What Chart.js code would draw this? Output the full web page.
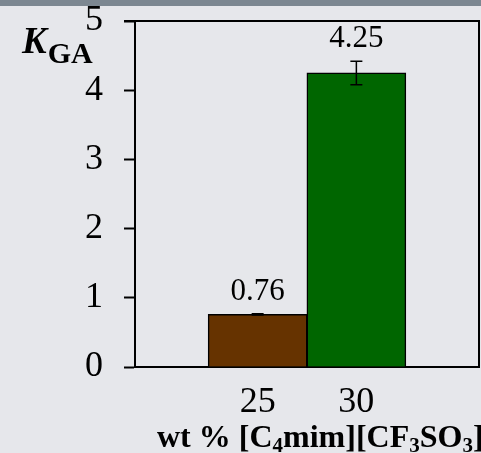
<!DOCTYPE html>
<html>
<head>
<meta charset="utf-8">
<script src="https://cdn.jsdelivr.net/npm/chart.js@4/dist/chart.umd.min.js"></script>
<style>
  html, body { margin: 0; padding: 0; background: #e6e7eb; }
  canvas { display: block; }
</style>
</head>
<body>
<canvas id="kga-chart" width="481" height="453"></canvas>
<script>
// wt % of [C4mim][CF3SO3]
const concentrations = [25, 30];
const kgaValues = [0.76, 4.25];
const kgaErrors = [0.01, 0.17];
const barColors = ['#663300', '#006600'];
const yTicks = [0, 1, 2, 3, 4, 5];

const serif = "'Liberation Serif', 'Times New Roman', serif";

// draw a run of text pieces, some of them lowered as subscripts
function drawRich(ctx, x, y, parts) {
    let cx = x;
    parts.forEach(p => {
        ctx.font = p.font;
        cx += p.gap || 0;
        ctx.fillText(p.text, cx, y + (p.dy || 0));
        cx += ctx.measureText(p.text).width;
    });
}

const extras = {
    id: 'extras',
    beforeDraw(chart) {
        const ctx = chart.ctx;
        ctx.save();
        ctx.fillStyle = '#7c8791';
        ctx.fillRect(0, 0, chart.width, 6);
        ctx.restore();
    },
    afterDraw(chart) {
        const ctx = chart.ctx;
        const area = chart.chartArea;
        const y = chart.scales.y;
        const meta = chart.getDatasetMeta(0);
        ctx.save();

        // top and right frame
        ctx.strokeStyle = '#000';
        ctx.lineWidth = 2;
        ctx.beginPath();
        ctx.moveTo(area.left - 11, area.top);
        ctx.lineTo(area.right, area.top);
        ctx.lineTo(area.right, area.bottom);
        ctx.stroke();

        // error bars and value labels
        ctx.lineWidth = 1.5;
        ctx.fillStyle = '#000';
        ctx.textAlign = 'center';
        ctx.textBaseline = 'alphabetic';
        meta.data.forEach((bar, i) => {
            const hi = y.getPixelForValue(kgaValues[i] + kgaErrors[i]);
            const lo = y.getPixelForValue(kgaValues[i] - kgaErrors[i]);
            ctx.beginPath();
            ctx.moveTo(bar.x, hi); ctx.lineTo(bar.x, lo);
            ctx.moveTo(bar.x - 6, hi); ctx.lineTo(bar.x + 6, hi);
            ctx.moveTo(bar.x - 6, lo); ctx.lineTo(bar.x + 6, lo);
            ctx.stroke();
            ctx.font = '31px ' + serif;
            ctx.fillText(kgaValues[i].toFixed(2), bar.x, hi - 14);
        });

        // axis titles
        ctx.textAlign = 'left';
        drawRich(ctx, 22, 53, [
            { text: 'K', font: 'italic bold 37px ' + serif },
            { text: 'GA', font: 'bold 30px ' + serif, dy: 10, gap: 1 }
        ]);
        const b = 'bold 32px ' + serif;
        const s = 'bold 21px ' + serif;
        drawRich(ctx, 157, 447, [
            { text: 'wt % [C', font: b },
            { text: '4', font: s, dy: 5 },
            { text: 'mim][CF', font: b },
            { text: '3', font: s, dy: 5 },
            { text: 'SO', font: b },
            { text: '3', font: s, dy: 5 },
            { text: ']', font: b }
        ]);
        ctx.restore();
    }
};

new Chart(document.getElementById('kga-chart').getContext('2d'), {
    type: 'bar',
    data: {
        datasets: [{
            data: concentrations.map((c, i) => ({ x: c, y: kgaValues[i] })),
            backgroundColor: barColors,
            borderColor: '#000',
            borderWidth: 1.5,
            barThickness: 99
        }]
    },
    options: {
        responsive: false,
        devicePixelRatio: 1,
        animation: false,
        layout: { padding: { top: 21, right: 2, left: 0, bottom: 0 } },
        plugins: {
            legend: { display: false },
            tooltip: { enabled: false }
        },
        scales: {
            x: {
                type: 'linear',
                offset: false,
                min: 18.79,
                max: 36.21,
                afterBuildTicks: scale => { scale.ticks = concentrations.map(v => ({ value: v })); },
                afterFit: scale => {
                    scale.height = 86;
                    scale.paddingLeft = 0;
                    scale.paddingRight = 0;
                },
                ticks: {
                    color: '#000',
                    padding: 14,
                    maxRotation: 0,
                    font: { family: serif, size: 36 },
                    callback: v => String(v)
                },
                grid: { display: true, drawOnChartArea: false, drawTicks: false },
                border: { display: true, color: '#000', width: 2 }
            },
            y: {
                min: 0,
                max: 5,
                afterBuildTicks: scale => { scale.ticks = yTicks.map(v => ({ value: v })); },
                afterFit: scale => {
                    scale.width = 135;
                    scale.paddingTop = 0;
                    scale.paddingBottom = 0;
                },
                ticks: {
                    color: '#000',
                    padding: 21,
                    font: { family: serif, size: 36 }
                },
                grid: {
                    drawOnChartArea: false,
                    drawTicks: true,
                    tickLength: 11,
                    tickColor: '#000',
                    tickWidth: 2,
                    color: '#000'
                },
                border: { display: true, color: '#000', width: 2 }
            }
        }
    },
    plugins: [extras]
});
</script>
</body>
</html>
